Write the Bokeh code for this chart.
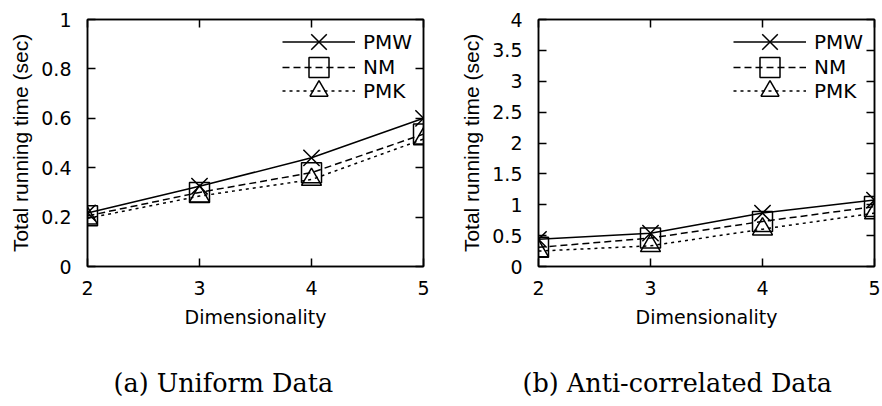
from bokeh.plotting import figure
from bokeh.models import (Range1d, FixedTicker, LinearAxis, Legend, LegendItem, Title)
from bokeh.layouts import row
from bokeh.embed import file_html
from bokeh.resources import INLINE

dims = [2, 3, 4, 5]
x_ticks = [2, 3, 4, 5]

uniform_pmw = [0.217, 0.325, 0.44, 0.60]
uniform_nm = [0.205, 0.30, 0.38, 0.536]
uniform_pmk = [0.195, 0.285, 0.352, 0.516]

anti_pmw = [0.44, 0.54, 0.865, 1.075]
anti_nm = [0.31, 0.46, 0.73, 0.97]
anti_pmk = [0.25, 0.335, 0.605, 0.865]

y_ticks_a = [0, 0.2, 0.4, 0.6, 0.8, 1]
y_labels_a = ["0", "0.2", "0.4", "0.6", "0.8", "1"]
y_ticks_b = [0, 0.5, 1, 1.5, 2, 2.5, 3, 3.5, 4]
y_labels_b = ["0", "0.5", "1", "1.5", "2", "2.5", "3", "3.5", "4"]

series_names = ["PMW", "NM", "PMK"]
captions = ["(a) Uniform Data", "(b) Anti-correlated Data"]
x_title = "Dimensionality"
y_title = "Total running time (sec)"

WIDE = "DejaVu Sans"
NARROW = "Liberation Sans"


def style_axis(ax):
    ax.major_tick_in = 8
    ax.major_tick_out = 0
    ax.minor_tick_line_color = None
    ax.axis_line_width = 1.5
    ax.major_tick_line_width = 1.5
    ax.major_tick_line_color = "black"
    ax.axis_line_color = "black"
    ax.major_label_text_font = WIDE
    ax.major_label_text_font_size = "19px"
    ax.major_label_text_color = "black"
    ax.axis_label_text_font_style = "normal"
    ax.axis_label_text_color = "black"


def make_panel(pmw, nm, pmk, yticks, ylabels, ymax, caption, left_border, right_border,
               cap_offset, legend_x):
    p = figure(width=441, height=406, output_backend="svg", toolbar_location=None,
               x_range=Range1d(2, 5), y_range=Range1d(0, ymax),
               frame_width=336, frame_height=247,
               min_border_left=left_border, min_border_right=right_border,
               min_border_top=19, min_border_bottom=40)
    p.xaxis.visible = False
    p.yaxis.visible = False
    p.grid.visible = False
    p.outline_line_color = "black"
    p.outline_line_width = 1.5
    p.background_fill_color = "white"
    p.border_fill_color = "white"

    xb = LinearAxis(ticker=FixedTicker(ticks=x_ticks), axis_label=x_title)
    style_axis(xb)
    xb.axis_label_text_font = WIDE
    xb.axis_label_text_font_size = "19px"
    xb.major_label_standoff = 14
    xb.axis_label_standoff = 8
    p.add_layout(xb, "below")

    yl = LinearAxis(ticker=FixedTicker(ticks=yticks), axis_label=y_title,
                    major_label_overrides={t: l for t, l in zip(yticks, ylabels)})
    style_axis(yl)
    yl.axis_label_text_font = NARROW
    yl.axis_label_text_font_size = "21px"
    yl.major_label_standoff = 16
    yl.axis_label_standoff = 6
    p.add_layout(yl, "left")

    xt = LinearAxis(ticker=FixedTicker(ticks=x_ticks),
                    major_label_overrides={t: "" for t in x_ticks})
    style_axis(xt)
    p.add_layout(xt, "above")
    yr = LinearAxis(ticker=FixedTicker(ticks=yticks),
                    major_label_overrides={t: "" for t in yticks})
    style_axis(yr)
    p.add_layout(yr, "right")

    l1 = p.line(dims, pmw, line_color="black", line_width=1.5)
    s1 = p.scatter(dims, pmw, marker="x", size=23, line_color="black", line_width=1.5)
    l2 = p.line(dims, nm, line_color="black", line_width=1.5, line_dash="7 4")
    s2 = p.scatter(dims, nm, marker="square", size=20, line_color="black", line_width=1.5,
                   fill_color=None)
    l3 = p.line(dims, pmk, line_color="black", line_width=1.5, line_dash="3 4")
    s3 = p.scatter(dims, pmk, marker="triangle", size=20, line_color="black", line_width=1.5,
                   fill_color=None)

    # one legend per entry so that the samples can be drawn at full marker size
    entries = [(series_names[0], [l1, s1], 55), (series_names[1], [l2, s2], 50),
               (series_names[2], [l3, s3], 45)]
    bottoms = [197, 172, 148]
    for (name, rends, gh), b in zip(entries, bottoms):
        lg = Legend(items=[LegendItem(label=name, renderers=rends)],
                    location=(legend_x, b + (55 - gh) / 2), border_line_color=None,
                    background_fill_alpha=0, glyph_width=73, glyph_height=gh,
                    label_text_font=WIDE, label_text_font_size="20px",
                    label_text_color="black", label_standoff=8, margin=0, padding=0)
        p.add_layout(lg)

    t = Title(text=caption, align="left", text_font="DejaVu Serif",
              text_font_size="25.5px", text_font_style="normal", text_color="black",
              standoff=70, offset=cap_offset)
    p.add_layout(t, "below")
    return p


pa = make_panel(uniform_pmw, uniform_nm, uniform_pmk, y_ticks_a, y_labels_a, 1,
                captions[0], 87, 18, 26, 195)
pb = make_panel(anti_pmw, anti_nm, anti_pmk, y_ticks_b, y_labels_b, 4,
                captions[1], 97, 8, -16, 195)

layout = row(pa, pb)
open("out.html", "w").write(file_html(layout, INLINE))
